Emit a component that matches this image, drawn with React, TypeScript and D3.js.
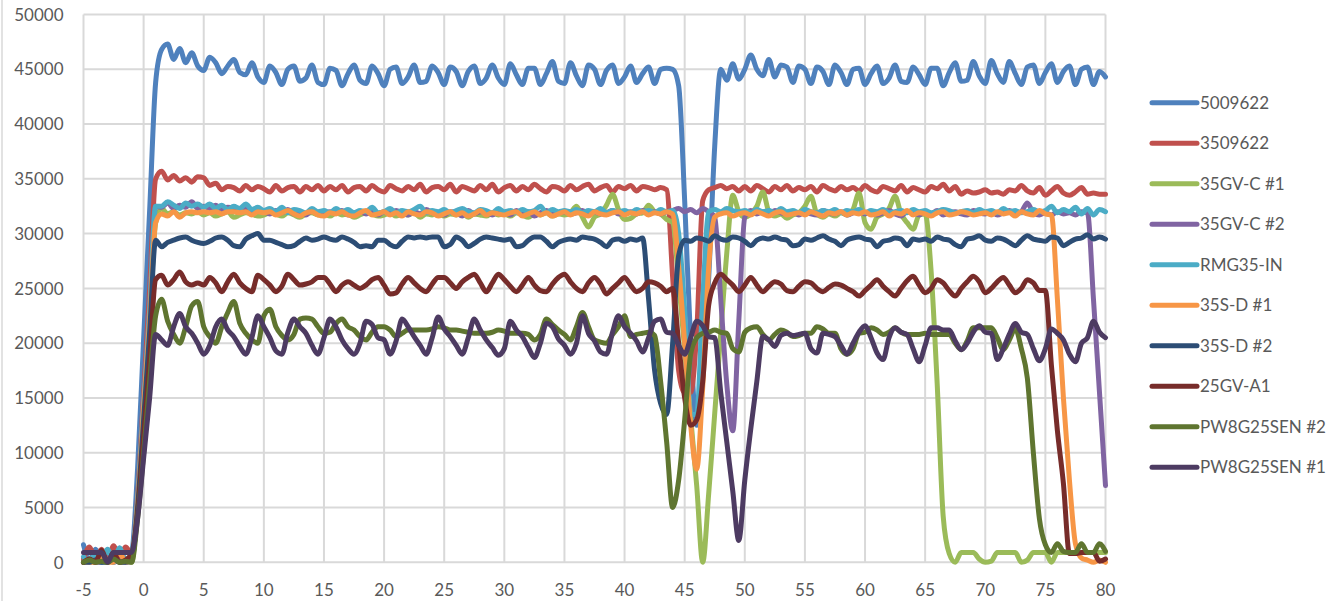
import React from 'react';
import * as d3 from 'd3';

// sampling of the x axis (seconds)
const X_START = -5;
const X_STEP = 0.5;

const xTicks = [-5, 0, 5, 10, 15, 20, 25, 30, 35, 40, 45, 50, 55, 60, 65, 70, 75, 80];
const yTicks = [0, 5000, 10000, 15000, 20000, 25000, 30000, 35000, 40000, 45000, 50000];

const seriesNames = [
  '5009622', '3509622', '35GV-C #1', '35GV-C #2', 'RMG35-IN',
  '35S-D #1', '35S-D #2', '25GV-A1', 'PW8G25SEN #2', 'PW8G25SEN #1',
];
const seriesColors = [
  '#4F81BD', '#C0504D', '#9BBB59', '#8064A2', '#4BACC6',
  '#F79646', '#2C4D75', '#772C2A', '#5F7530', '#4D3B62',
];

// each row = 5 units of x (10 samples), last value at x = 80
const s5009622 = [
  1600, 200, 1200, 200, 1100, 300, 1300, 200, 800, 8600,
  20400, 32100, 43800, 46800, 47300, 45900, 46900, 45600, 46500, 45300,
  44900, 46100, 45600, 44600, 45300, 45900, 44700, 44500, 45600, 44300,
  43800, 45300, 44700, 43600, 45000, 45300, 43900, 44200, 45400, 43800,
  43600, 45100, 44900, 43500, 44600, 45400, 44000, 43700, 45300, 44600,
  43500, 45000, 45200, 43700, 44300, 45400, 43800, 43900, 45300, 44700,
  43600, 45200, 44800, 43500, 44800, 45300, 43700, 44200, 45400, 44200,
  43600, 45500, 44500, 43600, 45100, 45100, 43600, 44600, 45700, 43900,
  43700, 45600, 44400, 43500, 45400, 45000, 43600, 44900, 45400, 43700,
  44300, 45300, 43800, 44600, 45200, 43700, 45000, 45100, 45000, 43500,
  33000, 20000, 12500, 17000, 26000, 38000, 45000, 44000, 45500, 44100,
  45000, 46300, 45000, 44400, 45900, 44300, 45400, 45200, 43800, 45300,
  45000, 43700, 45200, 44800, 43600, 45400, 44700, 43600, 45000, 45100,
  43600, 44600, 45300, 43700, 44200, 45400, 43900, 43800, 45200, 44500,
  43600, 45100, 45100, 43500, 44700, 45600, 43900, 44000, 45700, 44400,
  43700, 45800, 44600, 43800, 45700, 44600, 43600, 45200, 45400, 43700,
  44700, 45500, 43800, 44800, 45300, 43600, 45000, 45200, 43600, 44800,
  44300,
];

const s3509622 = [
  300, 1400, 300, 1200, 200, 1500, 200, 1400, 800, 6000,
  15500, 25000, 35000, 35700, 34900, 35300, 34800, 35100, 34700, 35200,
  35100, 34400, 34600, 34000, 34300, 34200, 33900, 34400, 34000, 34300,
  34100, 33800, 34400, 33900, 34200, 34300, 33800, 34300, 34000, 34400,
  33900, 34300, 34000, 34400, 33800, 34200, 34300, 33900, 34400, 34000,
  33800, 34400, 34100, 33900, 34300, 34000, 34500, 33800, 34200, 34300,
  34000, 34500, 33800, 34300, 34100, 33900, 34400, 34000, 34500, 33800,
  34200, 34400, 33900, 34300, 34000, 34500, 34100, 33800, 34300, 34200,
  33900, 34400, 34000, 34300, 34500, 33900, 34200, 34400, 33800, 34300,
  34100, 34400, 33900, 34300, 34200, 34000, 34200, 34000, 26000, 17500,
  15500, 15500, 21000, 33000, 34000, 34200, 34400, 34100, 34300, 33900,
  34300, 33900, 34400, 34100, 33800, 34300, 34000, 34400, 33900, 34200,
  34000, 34300, 33800, 34400, 34100, 33900, 34300, 34000, 34200, 33900,
  34400, 34000, 33800, 34300, 34100, 33900, 34400, 33800, 34200, 34000,
  33800, 34300, 34100, 34500, 33900, 34300, 33600, 33900, 33700, 33800,
  34000, 33700, 33800, 33600, 34000, 33900, 34400, 33900, 33700, 34200,
  33500, 33900, 34300, 33700, 33500, 33800, 34200, 33600, 33700, 33600,
  33600,
];

const s35GVC1 = [
  0, 300, 0, 200, 0, 300, 0, 200, 0, 5500,
  14000, 22000, 31000, 32300, 31800, 32000, 31700, 31900, 31800, 32000,
  31700, 31900, 31600, 31800, 32000, 31500, 31700, 31900, 31800, 31600,
  31700, 31900, 31800, 31600, 31900, 31700, 31500, 31800, 31900, 31700,
  31800, 31600, 31900, 31700, 31800, 31500, 31700, 31900, 31800, 31600,
  31700, 31900, 31600, 31800, 31700, 31900, 31500, 31800, 31700, 31900,
  31600, 31800, 31700, 31900, 31500, 31800, 31700, 31600, 31900, 31700,
  31800, 31600, 31900, 31700, 31500, 31800, 31700, 31900, 31600, 31800,
  31700, 31900, 32500, 31500, 30600, 31500, 31800, 32600, 33600, 32200,
  31300, 31400, 31800, 31900, 32600, 32000, 31800, 31300, 31000, 25600,
  19400, 13200, 7000, 0, 6300, 13600, 20900, 28200, 33500, 32000,
  31500, 31800, 32500, 33800, 32000, 31600, 31800, 31400, 31700, 31900,
  32500, 33400, 31800, 31500, 31800, 31600, 31900, 31700, 32200, 33700,
  31000, 30400, 31500, 31800, 32300, 33400, 31800, 31000, 30400, 31700,
  31800, 26500, 16300, 4200, 800, 0, 900, 900, 900, 300,
  0, 100, 900, 900, 900, 900, 0, 200, 900, 900,
  900, 0, 900, 900, 900, 900, 900, 900, 900, 900,
  900,
];

const s35GVC2 = [
  0, 200, 0, 0, 300, 0, 200, 0, 200, 5500,
  14500, 23000, 32500, 32400, 32800, 32300, 32600, 32400, 32900, 32300,
  32500, 32300, 32600, 32200, 32400, 32300, 32100, 32300, 32000, 32200,
  32000, 31800, 32100, 31900, 32200, 31800, 32000, 31700, 32100, 31900,
  31800, 32000, 31900, 32100, 31700, 31900, 32000, 31800, 32100, 31700,
  32000, 31800, 32100, 31900, 31700, 32000, 31800, 32200, 31900, 31800,
  31700, 32000, 31900, 31600, 32100, 31800, 32000, 31900, 31700, 32000,
  31900, 31700, 32100, 31800, 32000, 31600, 31900, 32100, 31800, 31900,
  32000, 31800, 31900, 32100, 31700, 32000, 31800, 31900, 32100, 31800,
  31900, 32000, 31800, 32100, 31900, 32000, 31800, 32000, 32100, 32300,
  32000, 32200, 31900, 32300, 32000, 31500, 24000, 16300, 12000, 22000,
  31500, 32100, 31800, 32000, 31700, 32100, 31900, 31800, 32000, 31700,
  32000, 31800, 31700, 32100, 31900, 31800, 32000, 31700, 31900, 32100,
  31800, 32000, 31700, 31900, 32100, 31800, 31600, 32000, 31900, 31700,
  32000, 31800, 32100, 31700, 31900, 32000, 31800, 31700, 32100, 31900,
  31800, 32000, 31700, 31900, 32100, 31800, 32000, 32800, 31900, 31700,
  31900, 31700, 32000, 31800, 31900, 31700, 32000, 31900, 24000, 15500,
  7000,
];

const sRMG35IN = [
  500, 0, 900, 0, 1200, 0, 1300, 100, 800, 5600,
  14500, 23000, 32500, 32500, 32900, 32600, 32300, 32800, 32500, 32700,
  32400, 32700, 32300, 32600, 32200, 32500, 32300, 32700, 32200, 32400,
  32100, 32300, 32000, 32400, 31900, 32200, 32100, 31900, 32300, 32000,
  32100, 31900, 32300, 32000, 32200, 31900, 32100, 32000, 32400, 31900,
  32000, 32300, 31900, 32100, 32000, 32200, 32500, 31900, 32100, 32000,
  32200, 31900, 32100, 32300, 32000, 31900, 32200, 32100, 31900, 32300,
  32000, 32100, 31900, 32200, 32000, 32100, 32500, 31900, 32200, 32000,
  32100, 32000, 32200, 31900, 32100, 32000, 32300, 31900, 32100, 32000,
  32100, 31900, 32200, 32000, 32100, 31900, 32200, 32000, 32100, 30000,
  23000, 13500, 13500, 24000, 32000, 32200, 32000, 32300, 32100, 32000,
  32100, 31900, 32200, 32000, 32100, 31900, 32300, 32000, 32100, 31900,
  32200, 32000, 31900, 32100, 32000, 32200, 31900, 32100, 32000, 32200,
  31900, 32100, 32000, 32200, 31900, 32000, 32100, 31900, 32200, 32000,
  32100, 31900, 32000, 32200, 32100, 31900, 32000, 32100, 31900, 32200,
  32000, 32100, 31900, 32300, 32000, 32100, 31900, 32000, 32200, 32000,
  32100, 32500, 31900, 32200, 32000, 32400, 31800, 32300, 31700, 32200,
  32000,
];

const s35SD1 = [
  0, 0, 0, 600, 0, 0, 900, 0, 300, 5400,
  14000, 22000, 31000, 31800, 31600, 32000, 31500, 31900, 32000, 31900,
  32000, 31900, 32000, 31800, 32000, 32000, 31900, 32000, 31700, 32000,
  31900, 32000, 31700, 31900, 32100, 31800, 31600, 31900, 32000, 31700,
  31600, 31900, 31800, 32000, 31700, 31600, 31900, 32100, 31700, 31800,
  32000, 31700, 31900, 31600, 32000, 31800, 31700, 32000, 31900, 31600,
  31800, 32000, 31700, 31900, 31600, 31800, 32100, 31700, 31900, 31800,
  31700, 31900, 32000, 31600, 31800, 32000, 31700, 31900, 31600, 31800,
  32000, 31700, 31900, 31800, 31600, 32000, 31800, 31700, 31900, 32000,
  31700, 31900, 31800, 32000, 31700, 31900, 31800, 32000, 31800, 27000,
  20000, 12500, 8500, 16000, 27000, 31500, 31800, 31900, 31600, 31800,
  31900, 31700, 32000, 31800, 31600, 31900, 32000, 31700, 31800, 31900,
  31700, 32000, 31800, 31600, 31900, 31800, 32000, 31700, 31900, 31800,
  32000, 31700, 31800, 32000, 31600, 31900, 31800, 32100, 31700, 31900,
  31800, 31600, 31900, 32000, 31700, 31800, 32000, 31900, 31700, 31800,
  31900, 31700, 32000, 31800, 31900, 31600, 32000, 31800, 31700, 32100,
  31800, 31700, 24000, 15000, 7500, 1700, 400, 200, 0, 200,
  0,
];

const s35SD2 = [
  0, 0, 200, 0, 0, 300, 0, 0, 200, 5000,
  13000, 21000, 29400, 28800, 29200, 29400, 29600, 29700, 29400, 29200,
  29100, 29300, 29600, 29700, 29400, 28900, 28800, 29500, 29800, 30000,
  29400, 29400, 29200, 29000, 28800, 28900, 29300, 29600, 29400, 29500,
  29700, 29500, 29400, 29700, 29500, 29200, 28800, 28900, 28800, 29400,
  29400, 29000, 28800, 29300, 29700, 29600, 29700, 29600, 29700, 29700,
  28800, 29000, 29700, 29400, 28800, 29100, 29500, 29700, 29600, 29500,
  29400, 29500, 28800, 28900, 29400, 29700, 29700, 29300, 28800, 29200,
  29400, 29500, 29400, 29700, 29600, 29500, 29200, 28800, 29400, 29500,
  29300, 29500, 29400, 29600, 24000, 17500, 14500, 13500, 20000, 28000,
  29400, 29300, 29600, 29500, 29300, 29800, 29500, 29400, 29700, 29600,
  29300, 28900, 29400, 29600, 29500, 29700, 29500, 29400, 28900, 29000,
  29500, 29400, 29600, 29800, 29500, 29300, 28900, 29400, 29600, 29700,
  29500, 29400, 28800, 29300, 29400, 29600, 29500, 28900, 29500, 29400,
  29500, 29300, 29700, 29500, 29400, 29000, 28800, 29500, 29600, 29800,
  29400, 29300, 29600, 29500, 29200, 28900, 29400, 29800, 29500, 29400,
  29300, 29700, 29600, 28900, 29200, 29500, 29600, 29900, 29500, 29700,
  29500,
];

const s25GVA1 = [
  0, 300, 0, 1100, 0, 900, 0, 200, 800, 4500,
  11500, 18500, 25800, 26200, 25300, 25800, 26500, 25600, 25300, 25500,
  25300, 26000, 25500, 24700, 25600, 26300, 25500, 25000, 24700, 26200,
  25800, 25300, 24700, 25200, 26300, 25800, 25300, 25400, 25600, 26000,
  26000, 25400, 24700, 25300, 25600, 25300, 25000, 25300, 25800, 26000,
  25300, 24500, 24600, 25400, 26000, 25500, 25000, 24700, 25400, 26000,
  26000, 25500, 25000, 25600, 26000, 26300, 25500, 24700, 25500, 26300,
  25800, 25200, 24700, 25300, 26000, 25300, 24800, 24700, 25400, 26000,
  26300, 25600, 25000, 24700, 25500, 26000, 25400, 24500, 25000, 25500,
  26000, 25300, 24700, 25000, 25600, 25500, 25200, 24700, 25000, 20000,
  15000, 12500, 13000, 16500, 23500, 25500, 26300, 25800, 25300, 24700,
  25300, 26000, 25300, 24700, 25200, 25600, 25400, 24800, 24700, 25200,
  25600, 25500, 25000, 24700, 25100, 25400, 25300, 25000, 24700, 24300,
  24800, 25300, 25800, 25200, 24700, 24300, 25000, 25700, 26100, 25300,
  24600, 25000, 25800, 25500, 24800, 24300, 25000, 25600, 26100, 25600,
  24600, 25000, 25600, 26000, 25300, 24600, 25000, 25800, 25500, 24800,
  24800, 18000, 12000, 7200, 800, 800, 900, 900, 900, 100,
  300,
];

const sPW8G25SEN2 = [
  0, 200, 0, 100, 0, 300, 0, 100, 0, 4000,
  10000, 16500, 22500, 24000, 22000, 20800, 20000, 21500, 23400, 23800,
  21500, 20600, 20000, 21500, 22800, 23800, 21800, 20900, 20300, 20000,
  22500, 23100, 21500, 20700, 20300, 20800, 22200, 22300, 22200, 21500,
  20900, 21000, 21800, 22200, 21500, 21200, 20600, 20300, 21000, 21500,
  21500, 21200, 20600, 20900, 21200, 21200, 21200, 21200, 21300, 21500,
  21400, 21200, 21200, 21100, 21000, 20900, 20900, 20900, 21000, 21200,
  21100, 20900, 20900, 20900, 20800, 20300, 20800, 22200, 21700, 21200,
  20800, 20300, 21500, 22800, 21500, 20300, 20100, 20000, 20800, 21500,
  22500, 20600, 20800, 20900, 21000, 20700, 16500, 11000, 5000, 7500,
  13000, 19000, 20500, 20900, 21000, 21200, 21000, 20900, 19500, 19200,
  21000, 21400, 21500, 20800, 20300, 20800, 21200, 21000, 20600, 20700,
  20900, 20900, 21500, 21300, 20900, 20900, 19500, 19000, 19500, 20900,
  21000, 21400, 21200, 20800, 21000, 21400, 21000, 20800, 20800, 20800,
  20900, 20800, 20800, 20800, 20800, 20000, 19400, 20200, 21400, 21400,
  21400, 21400, 20500, 19400, 20300, 21300, 19500, 16800, 10000, 4000,
  1600, 900, 1700, 1000, 900, 900, 1700, 900, 900, 1700,
  1000,
];

const sPW8G25SEN1 = [
  900, 900, 900, 900, 0, 900, 900, 900, 900, 4000,
  9500, 15000, 20800, 20300, 19800, 21500, 22700, 21500, 20900, 20000,
  19000, 19800, 21500, 22200, 21200, 20600, 19700, 19000, 20500, 22500,
  21500, 20500, 19300, 19000, 21000, 22200, 21500, 20900, 19800, 19000,
  20500, 22200, 21500, 20300, 19500, 19000, 20000, 22000, 21700, 20500,
  20300, 19000, 20200, 22200, 21500, 20600, 19800, 19000, 20500, 22400,
  21300, 20600, 19800, 19000, 20500, 22200, 21200, 20300, 19600, 18900,
  19500, 22000, 21200, 20600, 19600, 18700, 20000, 21800, 21500, 20400,
  19800, 19000, 20000, 22500, 20900, 20200, 19200, 19000, 21000, 22500,
  21500, 20900, 20200, 19200, 20500, 22000, 22200, 21000, 20900, 19800,
  19000, 20500, 22000, 21600, 20600, 20500, 15500, 11000, 6500, 2000,
  7500, 12200, 16500, 20600, 20300, 19700, 20700, 20900, 20700, 20800,
  20900, 19500, 19100, 20900, 20800, 20600, 19800, 19000, 20000, 21000,
  21600, 20500, 19100, 18500, 20500, 21400, 21000, 20800, 19500, 18300,
  19800, 21400, 21400, 21200, 21200, 20200, 19400, 20000, 21000, 21600,
  21000, 20900, 18500, 19500, 20800, 21800, 21000, 20800, 19500, 18400,
  19500, 21300, 20900, 20300, 19000, 18300, 20000, 20500, 22000, 21000,
  20500,
];

const seriesValues = [
  s5009622, s3509622, s35GVC1, s35GVC2, sRMG35IN,
  s35SD1, s35SD2, s25GVA1, sPW8G25SEN2, sPW8G25SEN1,
];

const W = 1329;
const H = 601;
const TEXT = '#595959';
const GRID = '#d9d9d9';
const FONT = 'Lato, "Open Sans", sans-serif';

export default function App() {
  const x = d3.scaleLinear().domain([-5, 80]).range([83.5, 1105.5]);
  const y = d3.scaleLinear().domain([0, 50000]).range([562.3, 14.5]);
  const line = d3
    .line<number>()
    .x((_, i) => x(X_START + i * X_STEP))
    .y((d) => y(d))
    .curve(d3.curveMonotoneX);

  const legendX0 = 1152;
  const legendX1 = 1197;
  const legendY0 = 102.7;
  const legendDy = 40.5;

  return (
    <svg
      width={W}
      height={H}
      style={{ position: 'absolute', left: 0, top: 0, background: '#ffffff' }}
      fontFamily={FONT}
    >
      <rect x={0} y={0} width={W} height={H} fill="#ffffff" />
      <line x1={2} x2={2} y1={0} y2={H} stroke={GRID} strokeWidth={1.5} />
      {/* grid */}
      <g>
        {yTicks.map((t) => (
          <line key={'h' + t} x1={x(-5)} x2={x(80)} y1={y(t)} y2={y(t)} stroke={GRID} strokeWidth={2} />
        ))}
        {xTicks.map((t) => (
          <line key={'v' + t} x1={x(t)} x2={x(t)} y1={y(50000)} y2={y(0)} stroke={GRID} strokeWidth={2} />
        ))}
      </g>
      {/* y labels */}
      <g fill={TEXT} fontSize={17} textAnchor="end">
        {yTicks.map((t) => (
          <text key={'yl' + t} x={63.5} y={y(t) + 6.2}>
            {String(t)}
          </text>
        ))}
      </g>
      {/* x labels */}
      <g fill={TEXT} fontSize={17} textAnchor="middle">
        {xTicks.map((t) => (
          <text key={'xl' + t} x={x(t)} y={595.7}>
            {String(t)}
          </text>
        ))}
      </g>
      {/* series */}
      <g fill="none" strokeLinejoin="round" strokeLinecap="round">
        {seriesValues.map((vals, si) => (
          <path key={seriesNames[si]} d={line(vals) || ''} stroke={seriesColors[si]} strokeWidth={5} />
        ))}
      </g>
      {/* legend */}
      <g fontSize={17} fill={TEXT}>
        {seriesNames.map((n, i) => (
          <g key={'lg' + n}>
            <line
              x1={legendX0}
              x2={legendX1}
              y1={legendY0 + i * legendDy}
              y2={legendY0 + i * legendDy}
              stroke={seriesColors[i]}
              strokeWidth={5}
              strokeLinecap="round"
            />
            <text x={1200} y={legendY0 + i * legendDy + 6.2}>
              {n}
            </text>
          </g>
        ))}
      </g>
    </svg>
  );
}
